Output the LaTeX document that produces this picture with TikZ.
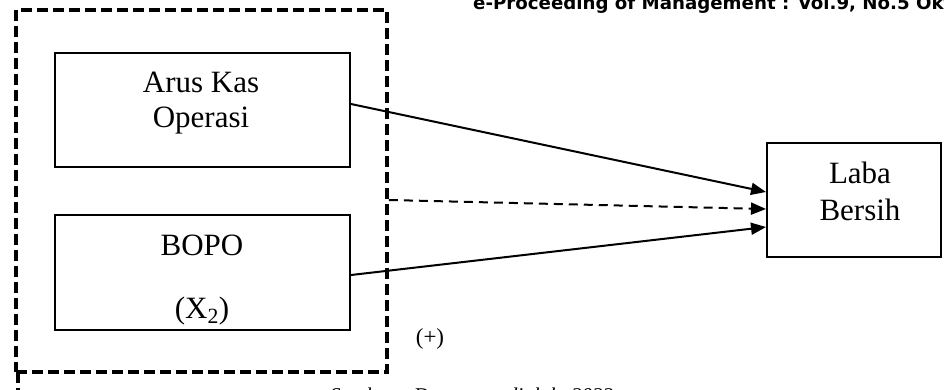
\documentclass[tikz,border=0pt]{standalone}
\usepackage{fontspec}
\setmainfont{Liberation Serif}
\newfontfamily\hdrfont{DejaVu Sans}
\usetikzlibrary{arrows.meta}
\begin{document}
\begin{tikzpicture}[x=1pt,y=-1pt,
  box/.style={draw,line width=2pt,rectangle,inner sep=0pt},
  txt/.style={inner sep=0pt,anchor=base,font=\fontsize{31}{36}\selectfont},
  outerbox/.style={draw,line width=3.6pt,dash pattern=on 11pt off 5pt},
  arr/.style={line width=2pt,-{Triangle[length=15pt,width=12pt]}},
  darr/.style={line width=2pt,dash pattern=on 9pt off 6pt,-{Triangle[length=15pt,width=12pt]}}]
\useasboundingbox (0,0) rectangle (944,389);
\clip (0,0) rectangle (944,389);
% header
\node[inner sep=0pt,anchor=base west,font=\hdrfont\bfseries\fontsize{18.2}{22}\selectfont] (hdr) at (473,9.5) {e-Proceeding of Management : Vol.9, No.5 Oktober 2022};
% outer dashed group
\node[outerbox,minimum width=371pt,minimum height=362pt,inner sep=0pt] (outer) at (201.5,191) {};
\coordinate (stubtop) at (18,372);
\coordinate (stubbot) at (18,395);
\draw[line width=3.6pt,dash pattern=on 11pt off 5pt] (stubtop) -- (stubbot);
% boxes
\node[box,minimum width=295pt,minimum height=114pt] (box1) at (202.5,110) {};
\node[box,minimum width=295pt,minimum height=115pt] (box2) at (202.5,272.5) {};
\node[box,minimum width=174pt,minimum height=114pt] (laba) at (854,200) {};
% texts
\node[txt] (t1a) at (201,92) {Arus Kas};
\node[txt] (t1b) at (201,127) {Operasi};
\node[txt] (t2a) at (202,255) {BOPO};
\node[txt] (t2b) at (202,318) {(X\textsubscript{2})};
\node[txt] (t3a) at (860,183) {Laba};
\node[txt] (t3b) at (860,220) {Bersih};
\node[inner sep=0pt,anchor=base,font=\fontsize{23}{26}\selectfont] (plus) at (430,344) {(+)};
\node[inner sep=0pt,anchor=north west,font=\itshape\fontsize{21}{24}\selectfont] (src) at (330,388) {Sumber : Data yang diolah, 2022};
% connectors
\draw[arr] ([yshift=6pt]box1.east) -- ([yshift=8pt]laba.west);
\draw[darr] ([yshift=-9pt]outer.east) -- ([yshift=-9pt]laba.west);
\draw[arr] ([yshift=-2.5pt]box2.east) -- ([yshift=-27pt]laba.west);
\end{tikzpicture}
\end{document}
